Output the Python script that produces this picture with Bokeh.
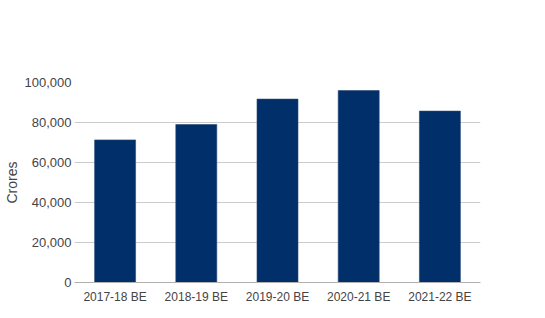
from bokeh.plotting import figure
from bokeh.embed import file_html
from bokeh.resources import INLINE
from bokeh.models import ColumnDataSource, Range1d, NumeralTickFormatter, FixedTicker

years = ["2017-18 BE", "2018-19 BE", "2019-20 BE", "2020-21 BE", "2021-22 BE"]
crores = [71300, 79000, 91700, 96000, 85700]
y_ticks = [0, 20000, 40000, 60000, 80000, 100000]

src = ColumnDataSource(dict(x=years, top=crores))

p = figure(x_range=years, width=545, height=318, output_backend="svg",
           toolbar_location=None, min_border_left=74, min_border_right=65,
           min_border_top=82, min_border_bottom=36)
p.y_range = Range1d(0, 100000)
p.x_range.range_padding = 0

p.vbar(x="x", top="top", width=0.505, source=src, fill_color="#002f6a",
       line_color="#2a4a78", line_width=0.6)

p.outline_line_color = None
p.background_fill_color = "white"
p.border_fill_color = "white"

p.xgrid.grid_line_color = None
p.ygrid.grid_line_color = "#cccccc"
p.ygrid.grid_line_width = 1
p.yaxis.ticker = FixedTicker(ticks=y_ticks)
p.yaxis.formatter = NumeralTickFormatter(format="0,0")

for ax in (p.xaxis, p.yaxis):
    ax.major_tick_line_color = None
    ax.minor_tick_line_color = None
    ax.major_tick_out = 0
    ax.major_tick_in = 0
    ax.minor_tick_out = 0
    ax.minor_tick_in = 0
    ax.major_label_text_font = "Liberation Sans"
    ax.major_label_text_color = "#444444"
    ax.axis_label_text_font = "Liberation Sans"
    ax.axis_label_text_color = "#444444"
    ax.axis_label_text_font_style = "normal"

p.yaxis.axis_line_color = None
p.xaxis.axis_line_color = "#b0b0b0"
p.yaxis.major_label_text_font_size = "13px"
p.xaxis.major_label_text_font_size = "12px"
p.yaxis.major_label_standoff = 3
p.xaxis.major_label_standoff = 7
p.yaxis.axis_label = "Crores"
p.yaxis.axis_label_text_font_size = "14px"
p.yaxis.axis_label_standoff = 2

open("out.html", "w").write(file_html(p, INLINE))
